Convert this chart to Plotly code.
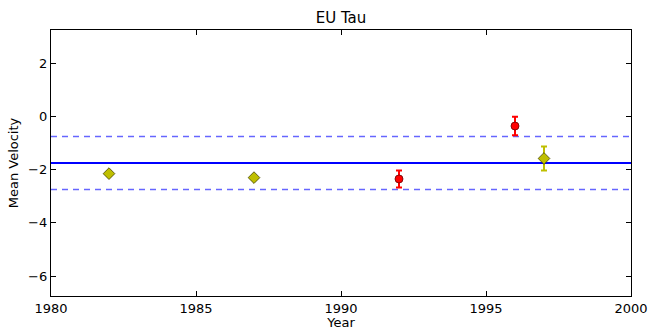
import plotly.graph_objects as go

# Observations per epoch
years_y = [1982, 1987, 1997]
vel_y = [-2.15, -2.30, -1.58]
err_y = [0.07, 0.07, 0.45]

years_r = [1992, 1996]
vel_r = [-2.35, -0.36]
err_r = [0.32, 0.35]

mean_vel = -1.75
band = 1.0
x_range = [1980, 2000]
x_ticks = [1980, 1985, 1990, 1995, 2000]
y_ticks = [-6, -4, -2, 0, 2]

fig = go.Figure()

# mean line and +/- band
fig.add_trace(go.Scatter(x=x_range, y=[mean_vel, mean_vel], mode="lines",
                         line=dict(color="#0000ff", width=2), hoverinfo="skip"))
for off in (band, -band):
    fig.add_trace(go.Scatter(x=x_range, y=[mean_vel + off] * 2, mode="lines",
                             line=dict(color="rgba(0,0,255,0.6)", width=1.5, dash="6px,5px"),
                             hoverinfo="skip"))

fig.add_trace(go.Scatter(
    x=years_y, y=vel_y, mode="markers",
    marker=dict(symbol="diamond", size=9, color="#bfbf00",
                line=dict(color="#444400", width=0.8)),
    error_y=dict(type="data", array=err_y, color="#bfbf00", thickness=2, width=3),
))
fig.add_trace(go.Scatter(
    x=years_r, y=vel_r, mode="markers",
    marker=dict(symbol="circle", size=8, color="#ff0000",
                line=dict(color="#660000", width=0.8)),
    error_y=dict(type="data", array=err_r, color="#ff0000", thickness=2, width=3),
))

axis_common = dict(showgrid=False, zeroline=False, showline=True, linecolor="black",
                   linewidth=1.3, mirror="ticks", ticks="inside", ticklen=5,
                   tickcolor="black", tickfont=dict(size=13, color="black"),
                   automargin=False)

fig.update_layout(
    width=650, height=330,
    margin=dict(l=51, r=19, t=30, b=34),
    paper_bgcolor="white", plot_bgcolor="white",
    font=dict(family="DejaVu Sans", color="black"),
    showlegend=False,
    title=dict(text="EU Tau", x=0.5, xanchor="center", y=0.945, yanchor="middle",
               xref="paper", font=dict(size=15)),
    xaxis=dict(range=x_range, tickvals=x_ticks,
               title=dict(text="Year", font=dict(size=13), standoff=1), **axis_common),
    yaxis=dict(range=[mean_vel - 5, mean_vel + 5], tickvals=y_ticks,
               title=dict(text="Mean Velocity", font=dict(size=13), standoff=6), **axis_common),
)

fig.write_html("out.html")
